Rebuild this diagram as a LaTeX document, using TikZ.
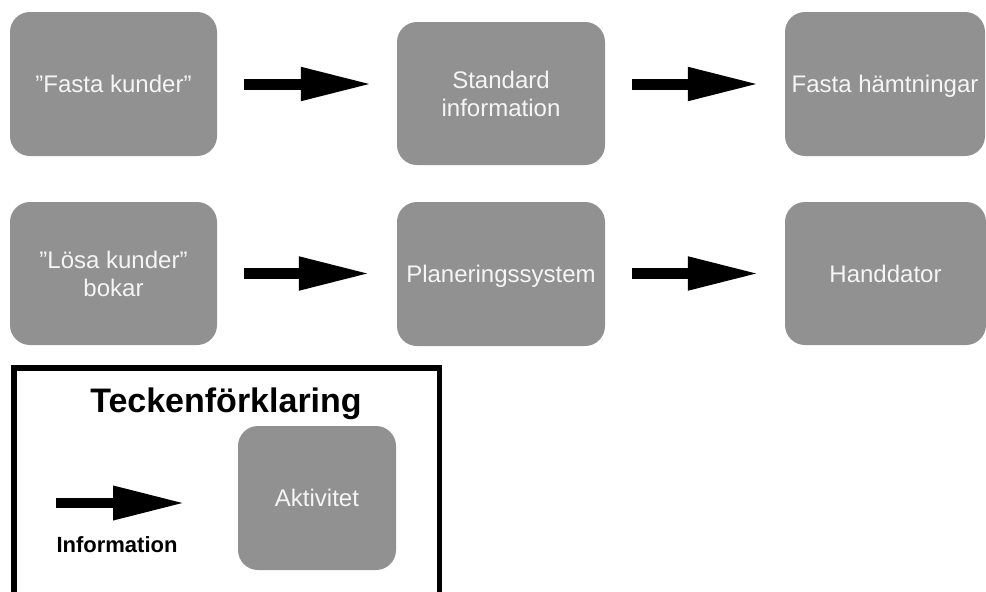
\documentclass[tikz,border=0pt]{standalone}
\usepackage{fontspec}
\setmainfont{Liberation Sans}
\usetikzlibrary{arrows.meta}
\definecolor{boxgray}{RGB}{145,145,145}
\definecolor{boxtext}{RGB}{245,245,245}
\tikzset{
  activity/.style={draw=none, fill=boxgray, rounded corners=20pt,
    inner sep=0pt, text=boxtext, align=center,
    font=\fontsize{24pt}{28pt}\selectfont},
  oneline/.style={text depth=0pt},
  flow/.style={line width=11pt, -{Triangle[length=72pt,width=31pt]}},
  legendflow/.style={line width=10pt, -{Triangle[length=72pt,width=32pt]}},
  legendframe/.style={draw=black, line width=5.5pt},
}
\begin{document}
\begin{tikzpicture}[x=1pt,y=-1pt]
\useasboundingbox (0,0) rectangle (986,592);
\fill[white] (0,0) rectangle (986,592);

% process boxes, first row
\node[activity, oneline, minimum width=207pt, minimum height=144pt] (b1) at (113.5,84) {”Fasta kunder”};
\node[activity, minimum width=208pt, minimum height=143pt] (b2) at (501,93.5) {Standard\\information};
\node[activity, oneline, minimum width=200pt, minimum height=144pt] (b3) at (885,84) {Fasta hämtningar};

% process boxes, second row
\node[activity, minimum width=207pt, minimum height=143pt] (b4) at (113.5,273.5) {”Lösa kunder”\\bokar};
\node[activity, oneline, minimum width=208pt, minimum height=144pt] (b5) at (501,274) {Planeringssystem};
\node[activity, oneline, minimum width=201pt, minimum height=143pt] (b6) at (885.5,273.5) {Handdator};

% information flows
\draw[flow, shorten <=27pt, shorten >=24pt] (b1.east) -- (b1.east -| b2.west);
\draw[flow, shorten <=27pt, shorten >=25pt] (b2.east |- b1.east) -- (b3.west |- b1.east);
\draw[flow, shorten <=27pt, shorten >=26pt] (b4.east) -- (b4.east -| b5.west);
\draw[flow, shorten <=27pt, shorten >=25pt] (b5.east |- b4.east) -- (b6.west |- b4.east);

% legend
\begin{scope}
  \clip (0,0) rectangle (986,592);
  \draw[legendframe] (14,368) rectangle (439.5,610);
\end{scope}
\node[anchor=base, font=\bfseries\fontsize{34pt}{40pt}\selectfont] (title) at (226,412) {Teckenförklaring};
\coordinate (la) at (56,503);
\coordinate (lb) at (185,503);
\draw[legendflow] (la) -- (lb);
\node[anchor=base, font=\bfseries\fontsize{22pt}{26pt}\selectfont] (info) at (117,552) {Information};
\node[activity, oneline, minimum width=158pt, minimum height=144pt] (act) at (317,498) {Aktivitet};
\end{tikzpicture}
\end{document}
